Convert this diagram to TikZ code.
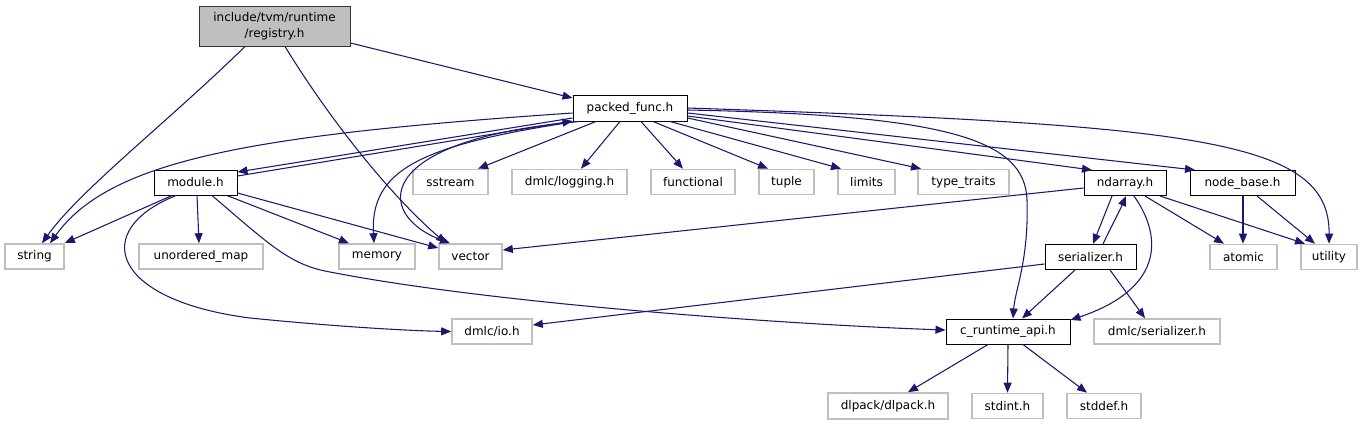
\documentclass[tikz,border=0pt]{standalone}
\usepackage{fontspec}
\setmainfont{DejaVu Sans}
\usetikzlibrary{arrows.meta}
\definecolor{edgeblue}{HTML}{191970}
\definecolor{boxgray}{HTML}{BFBFBF}
\tikzset{
  file/.style 2 args={draw=black,line width=0.75pt,fill=white,inner sep=0pt,
    minimum width=#1*0.75pt,minimum height=#2*0.75pt,font=\fontsize{9}{12}\selectfont},
  sysfile/.style 2 args={file={#1}{#2},draw=boxgray,line width=1.2pt},
  topfile/.style 2 args={file={#1}{#2},fill=boxgray,draw=black!80,align=center},
  dep/.style={edgeblue,line width=0.8pt,-{Triangle[length=7.5pt,width=6pt]}}
}

\begin{document}
\begin{tikzpicture}[x=0.75pt,y=-0.75pt]
\useasboundingbox (0,0) rectangle (1363,425);
\node[topfile={151}{40}] (reg) at (274.5,26) {include/tvm/runtime\\/registry.h};
\node[file={114}{26}] (pf) at (630,108) {packed\_func.h};
\node[file={83}{25}] (mod) at (195.5,182.5) {module.h};
\node[sysfile={75}{25}] (sst) at (450.5,182) {sstream};
\node[sysfile={115}{25}] (log) at (569.5,182) {dmlc/logging.h};
\node[sysfile={84}{25}] (fun) at (693,182) {functional};
\node[sysfile={55}{25}] (tup) at (786.5,182) {tuple};
\node[sysfile={57}{25}] (lim) at (866.5,182) {limits};
\node[sysfile={91}{25}] (tt) at (963.5,182) {type\_traits};
\node[file={82}{25}] (nd) at (1125,183) {ndarray.h};
\node[file={105}{25}] (nb) at (1242.5,183) {node\_base.h};
\node[sysfile={59}{25}] (str) at (34.5,256.5) {string};
\node[sysfile={124}{25}] (um) at (201,256.5) {unordered\_map};
\node[sysfile={76}{25}] (mem) at (377,256.5) {memory};
\node[sysfile={63}{25}] (vec) at (470.5,256.5) {vector};
\node[file={91}{25}] (ser) at (1090.5,257) {serializer.h};
\node[sysfile={67}{25}] (atm) at (1243.5,257) {atomic};
\node[sysfile={56}{25}] (utl) at (1329,257) {utility};
\node[sysfile={80}{25}] (io) at (492,331.5) {dmlc/io.h};
\node[file={124}{25}] (capi) at (1008,331.5) {c\_runtime\_api.h};
\node[sysfile={126}{25}] (dser) at (1157,331.5) {dmlc/serializer.h};
\node[sysfile={120}{26}] (dlp) at (888,406) {dlpack/dlpack.h};
\node[sysfile={71}{25}] (sint) at (1007.5,406) {stdint.h};
\node[sysfile={74}{25}] (sdef) at (1104,406) {stddef.h};
\draw[dep] (reg.east |- 0,43) -- (pf.west |- 0,98);
\draw[dep] (reg.south -| 245,0) .. controls (170,120) and (80,190) .. (str.north -| 42,0);
\draw[dep] (reg.south -| 285,0) .. controls (330,120) and (390,195) .. (vec.north -| 446,0);
\draw[dep] (pf.west |- 0,113) .. controls (250,135) and (110,160) .. (str.north -| 50,0);
\draw[dep] (pf.west |- 0,118) -- (mod.east |- 0,172);
\draw[dep] (mod.east |- 0,176) -- (pf.west |- 0,121);
\draw[dep] (pf.south -| 576,0) .. controls (420,145) and (370,170) .. (mem.north -| 374,0);
\draw[dep] (pf.south -| 579,0) .. controls (370,140) and (375,215) .. (vec.north -| 450,0);
\draw[dep] (pf.south -| 596,0) -- (sst.north -| 478,0);
\draw[dep] (pf.south -| 620,0) -- (log.north -| 581,0);
\draw[dep] (pf.south -| 641,0) -- (fun.north -| 683,0);
\draw[dep] (pf.south -| 653,0) -- (tup.north -| 768,0);
\draw[dep] (pf.south -| 670,0) -- (lim.north -| 841,0);
\draw[dep] (pf.east |- 0,118) -- (tt.north -| 921,0);
\draw[dep] (pf.east |- 0,116) -- (nd.north -| 1092,0);
\draw[dep] (pf.east |- 0,113) -- (nb.north -| 1195,0);
\draw[dep] (pf.east |- 0,110) .. controls (950,115) and (1025,140) .. (1027,200)
  .. controls (1029,260) and (1015,290) .. (capi.north -| 1013,0);
\draw[dep] (pf.east |- 0,108) .. controls (1200,125) and (1330,140) .. (utl.north -| 1329,0);
\draw[dep] (mod.south -| 172,0) -- (str.east |- 0,243);
\draw[dep] (mod.south -| 197,0) -- (um.north -| 199,0);
\draw[dep] (mod.south -| 227,0) -- (mem.north -| 349,0);
\draw[dep] (mod.east |- 0,193) -- (vec.west |- 0,248);
\draw[dep] (mod.south -| 176,0) .. controls (90,230) and (110,300) .. (250,318)
  .. controls (350,328) and (420,331) .. (io.west);
\draw[dep] (mod.south -| 212,0) .. controls (270,245) and (290,265) .. (330,272)
  .. controls (500,305) and (800,325) .. (capi.west |- 0,330);
\draw[dep] (nd.west |- 0,188) -- (vec.east |- 0,250);
\draw[dep] (nd.south -| 1112,0) -- (ser.north -| 1093,0);
\draw[dep] (ser.north -| 1103,0) .. controls (1112,225) and (1120,210) .. (nd.south -| 1126,0);
\draw[dep] (nd.south -| 1134,0) .. controls (1165,240) and (1160,290) .. (capi.east |- 0,320);
\draw[dep] (nd.south -| 1145,0) -- (atm.north -| 1224,0);
\draw[dep] (nd.south -| 1160,0) -- (utl.north -| 1305,0);
\draw[dep] (nb.south -| 1243,0) -- (atm.north -| 1243,0);
\draw[dep] (nb.south -| 1257,0) -- (utl.north -| 1315,0);
\draw[dep] (ser.west |- 0,264) -- (io.east |- 0,325);
\draw[dep] (ser.south -| 1075,0) -- (capi.north -| 1022,0);
\draw[dep] (ser.south -| 1110,0) -- (dser.north -| 1145,0);
\draw[dep] (capi.south -| 988,0) -- (dlp.north -| 908,0);
\draw[dep] (capi.south) -- (sint.north);
\draw[dep] (capi.south -| 1023,0) -- (sdef.north -| 1087,0);
\end{tikzpicture}
\end{document}
